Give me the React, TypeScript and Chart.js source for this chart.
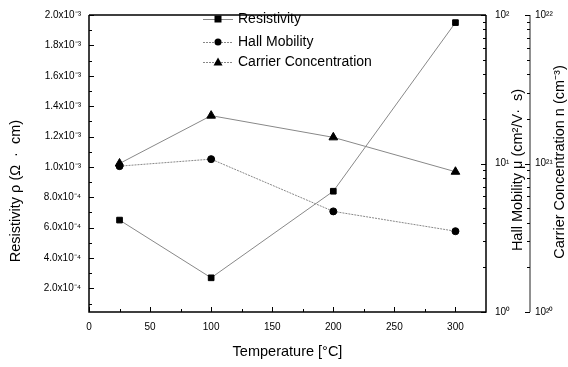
import React, { useEffect, useRef } from 'react';
import { Chart, registerables } from 'chart.js';

Chart.register(...registerables);

// ---- data ----
const temperatures = [25, 100, 200, 300];
const resistivity = [6.5e-4, 2.7e-4, 8.4e-4, 1.95e-3];
const hallMobility = [9.6, 10.7, 4.76, 3.5];
const carrierConc = [1.0e21, 2.1e21, 1.5e21, 8.8e20];

const xTicks = [0, 50, 100, 150, 200, 250, 300];
const xMinorTicks = [25, 75, 125, 175, 225, 275];
const leftTicks = [2e-4, 4e-4, 6e-4, 8e-4, 1.0e-3, 1.2e-3, 1.4e-3, 1.6e-3, 1.8e-3, 2.0e-3];
const leftTickLabels = ['2.0x10⁻⁴', '4.0x10⁻⁴', '6.0x10⁻⁴', '8.0x10⁻⁴', '1.0x10⁻³', '1.2x10⁻³', '1.4x10⁻³', '1.6x10⁻³', '1.8x10⁻³', '2.0x10⁻³'];
const leftMinorTicks = [1e-4, 3e-4, 5e-4, 7e-4, 9e-4, 1.1e-3, 1.3e-3, 1.5e-3, 1.7e-3, 1.9e-3];
const hallTicks = [1, 10, 100];
const hallTickLabels = ['10⁰', '10¹', '10²'];
const carrierTicks = [1e20, 1e21, 1e22];
const carrierTickLabels = ['10²⁰', '10²¹', '10²²'];
const logMinorFactors = [2, 3, 4, 5, 6, 7, 8, 9];

const seriesNames = ['Resistivity', 'Hall Mobility', 'Carrier Concentration'];
const xTitle = 'Temperature [°C]';
const yTitle = 'Resistivity ρ (Ω  ·  cm)';
const y2Title = 'Hall Mobility μ (cm²/V·  s)';
const y3Title = 'Carrier Concentration n (cm⁻³)';

const FONT = '"Liberation Sans", Arial, sans-serif';

const drawPlugin = {
  id: 'customDraw',
  afterDraw(chart: any) {
    const ctx = chart.ctx as CanvasRenderingContext2D;
    const { left, right, top, bottom } = chart.chartArea;
    const sx = chart.scales.x;
    const sy = chart.scales.y;
    const sy2 = chart.scales.y2;
    const sy3 = chart.scales.y3;
    ctx.save();
    // frame
    ctx.strokeStyle = '#000';
    ctx.lineWidth = 1.5;
    ctx.beginPath();
    ctx.moveTo(left, top);
    ctx.lineTo(right, top);
    ctx.moveTo(left, top);
    ctx.lineTo(left, bottom);
    ctx.lineTo(right, bottom);
    ctx.lineTo(right, top);
    ctx.stroke();
    // carrier axis line
    const ax3 = sy3.left;
    ctx.lineWidth = 1;
    ctx.strokeStyle = '#222';
    ctx.beginPath();
    ctx.moveTo(ax3, sy3.getPixelForValue(1e22));
    ctx.lineTo(ax3, sy3.getPixelForValue(1e20));
    ctx.stroke();

    // ticks
    ctx.strokeStyle = '#000';
    ctx.lineWidth = 1;
    ctx.beginPath();
    xTicks.forEach((v) => {
      const p = Math.round(sx.getPixelForValue(v)) + 0.5;
      ctx.moveTo(p, bottom);
      ctx.lineTo(p, bottom - 5);
    });
    xMinorTicks.forEach((v) => {
      const p = Math.round(sx.getPixelForValue(v)) + 0.5;
      ctx.moveTo(p, bottom);
      ctx.lineTo(p, bottom - 3);
    });
    leftTicks.forEach((v) => {
      const p = Math.round(sy.getPixelForValue(v)) + 0.5;
      ctx.moveTo(left, p);
      ctx.lineTo(left + 5, p);
    });
    leftMinorTicks.forEach((v) => {
      const p = Math.round(sy.getPixelForValue(v)) + 0.5;
      ctx.moveTo(left, p);
      ctx.lineTo(left + 3, p);
    });
    const logTicks = (scale: any, majors: number[], axisX: number) => {
      majors.forEach((m, i) => {
        const p = Math.round(scale.getPixelForValue(m)) + 0.5;
        ctx.moveTo(axisX, p);
        ctx.lineTo(axisX - 5, p);
        if (i < majors.length - 1) {
          logMinorFactors.forEach((f) => {
            const q = Math.round(scale.getPixelForValue(m * f)) + 0.5;
            ctx.moveTo(axisX, q);
            ctx.lineTo(axisX - 3, q);
          });
        }
      });
    };
    logTicks(sy2, hallTicks, right);
    logTicks(sy3, carrierTicks, ax3);
    ctx.stroke();

    // titles
    ctx.fillStyle = '#000';
    ctx.font = `14.5px ${FONT}`;
    ctx.textAlign = 'center';
    ctx.textBaseline = 'middle';
    ctx.fillText(xTitle, (left + right) / 2, 352);
    const vText = (t: string, x: number, y: number) => {
      ctx.save();
      ctx.translate(x, y);
      ctx.rotate(-Math.PI / 2);
      ctx.fillText(t, 0, 0);
      ctx.restore();
    };
    vText(yTitle, 16, 191);
    vText(y2Title, 518, 170);
    vText(y3Title, 560, 162);

    // legend
    const legendRows = [19, 42, 62];
    const styles = ['rect', 'circle', 'triangle'];
    ctx.font = `14px ${FONT}`;
    ctx.textAlign = 'left';
    legendRows.forEach((y, i) => {
      ctx.strokeStyle = '#888';
      ctx.lineWidth = 1;
      ctx.setLineDash(i === 0 ? [] : [2, 1]);
      ctx.beginPath();
      ctx.moveTo(203, y + 0.5);
      ctx.lineTo(233, y + 0.5);
      ctx.stroke();
      ctx.setLineDash([]);
      ctx.fillStyle = '#000';
      const mx = 218;
      ctx.beginPath();
      if (styles[i] === 'rect') {
        ctx.rect(mx - 3.5, y - 3.5, 7, 7);
      } else if (styles[i] === 'circle') {
        ctx.arc(mx, y, 3.5, 0, Math.PI * 2);
      } else {
        ctx.moveTo(mx, y - 4.5);
        ctx.lineTo(mx + 4.5, y + 3.5);
        ctx.lineTo(mx - 4.5, y + 3.5);
        ctx.closePath();
      }
      ctx.fill();
      ctx.fillText(seriesNames[i], 238, y);
    });
    ctx.restore();
  },
};

export default function App() {
  const ref = useRef<HTMLCanvasElement>(null);
  useEffect(() => {
    if (!ref.current) return;
    const tickFont = { family: FONT, size: 10 };
    const chart = new Chart(ref.current, {
      type: 'line',
      data: {
        datasets: [
          {
            label: seriesNames[0],
            data: temperatures.map((t, i) => ({ x: t, y: resistivity[i] })),
            yAxisID: 'y',
            borderColor: '#888',
            borderWidth: 1,
            pointStyle: 'rect',
            pointRadius: 4,
            pointBackgroundColor: '#000',
            pointBorderColor: '#000',
          },
          {
            label: seriesNames[1],
            data: temperatures.map((t, i) => ({ x: t, y: hallMobility[i] })),
            yAxisID: 'y2',
            borderColor: '#888',
            borderWidth: 1,
            borderDash: [2, 1],
            pointStyle: 'circle',
            pointRadius: 3.5,
            pointBackgroundColor: '#000',
            pointBorderColor: '#000',
          },
          {
            label: seriesNames[2],
            data: temperatures.map((t, i) => ({ x: t, y: carrierConc[i] })),
            yAxisID: 'y3',
            borderColor: '#888',
            borderWidth: 1,
            pointStyle: 'triangle',
            pointRadius: 5,
            pointBackgroundColor: '#000',
            pointBorderColor: '#000',
          },
        ],
      },
      options: {
        responsive: false,
        animation: false,
        layout: { padding: { top: 11, left: 0, right: 0, bottom: 0 } },
        plugins: { legend: { display: false }, tooltip: { enabled: false } },
        scales: {
          x: {
            type: 'linear',
            position: 'bottom',
            min: 0,
            max: 325,
            grid: { display: false, drawTicks: false },
            border: { display: false },
            afterBuildTicks: (s: any) => { s.ticks = xTicks.map((v) => ({ value: v })); },
            afterFit: (s: any) => { s.height = 55; },
            ticks: { font: tickFont, color: '#000', padding: 9, maxRotation: 0, autoSkip: false, callback: (v: any) => String(v) },
          },
          y: {
            type: 'linear',
            position: 'left',
            min: 4.5e-5,
            max: 2.0e-3,
            grid: { display: false, drawTicks: false },
            border: { display: false },
            afterBuildTicks: (s: any) => { s.ticks = leftTicks.map((v) => ({ value: v })); },
            afterFit: (s: any) => { s.width = 89; },
            ticks: {
              font: tickFont, color: '#000', padding: 8, autoSkip: false,
              callback: (_v: any, i: number) => leftTickLabels[i],
            },
          },
          y2: {
            type: 'logarithmic',
            position: 'right',
            min: 1,
            max: 100,
            grid: { display: false, drawTicks: false },
            border: { display: false },
            afterBuildTicks: (s: any) => { s.ticks = hallTicks.map((v) => ({ value: v })); },
            afterFit: (s: any) => { s.width = 44; },
            ticks: {
              font: tickFont, color: '#000', padding: 9, autoSkip: false,
              callback: (_v: any, i: number) => hallTickLabels[i],
            },
          },
          y3: {
            type: 'logarithmic',
            position: 'right',
            min: 1e20,
            max: 1e22,
            grid: { display: false, drawTicks: false },
            border: { display: false },
            afterBuildTicks: (s: any) => { s.ticks = carrierTicks.map((v) => ({ value: v })); },
            afterFit: (s: any) => { s.width = 38; },
            ticks: {
              font: tickFont, color: '#000', padding: 5, autoSkip: false,
              callback: (_v: any, i: number) => carrierTickLabels[i],
            },
          },
        },
      },
      plugins: [drawPlugin],
    } as any);
    return () => chart.destroy();
  }, []);
  return (
    <div style={{ position: 'absolute', left: 0, top: 0, width: 568, height: 367, background: '#fff' }}>
      <canvas ref={ref} width={568} height={367} style={{ display: 'block' }} />
    </div>
  );
}
